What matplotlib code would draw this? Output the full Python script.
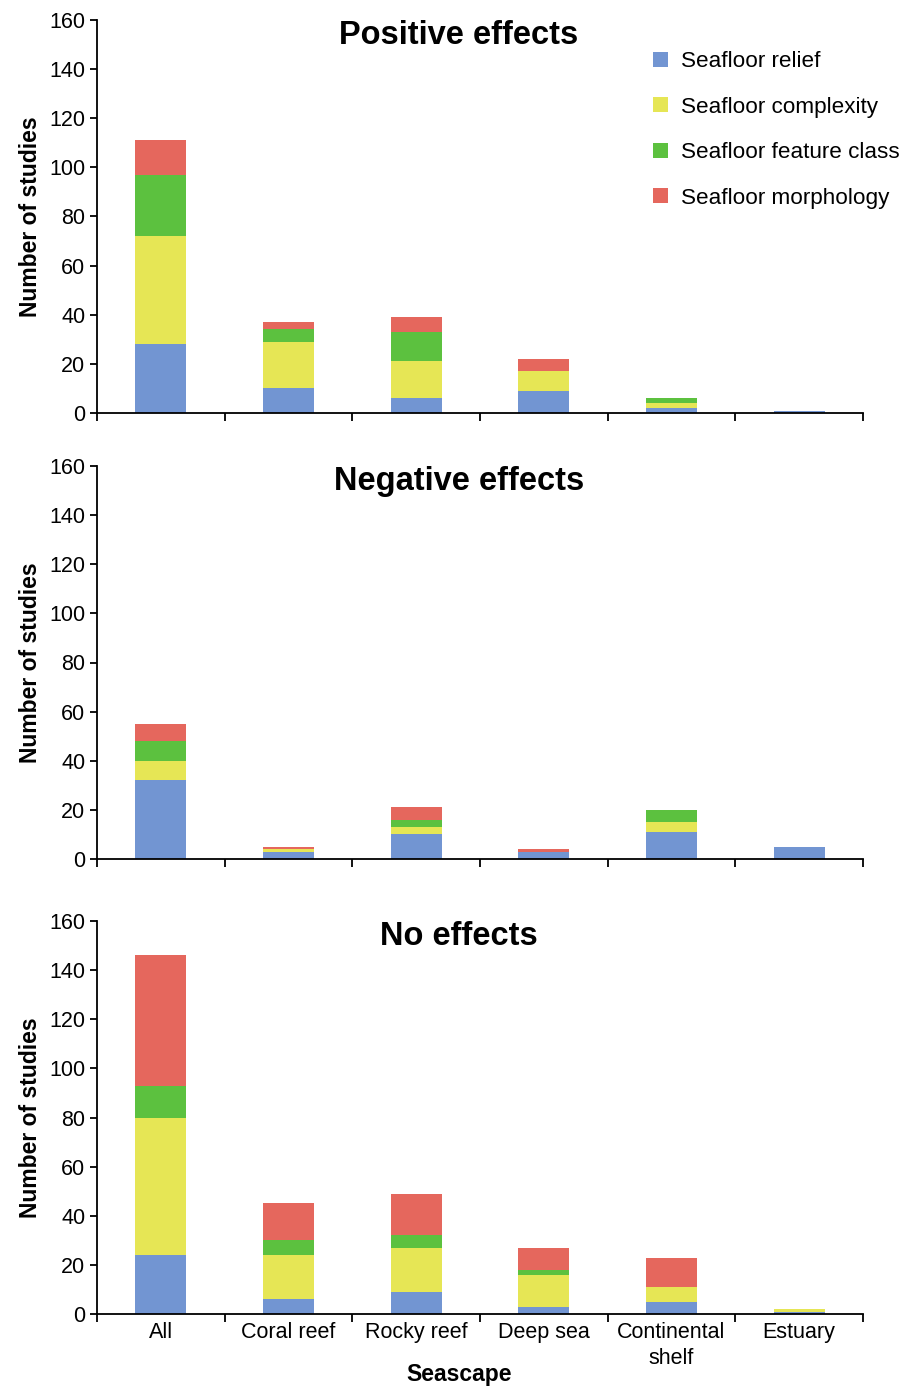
import numpy as np
import matplotlib
matplotlib.use("Agg")
import matplotlib.pyplot as plt

plt.rcParams['font.family'] = ['Liberation Sans', 'DejaVu Sans']

# seascape categories
seascapes = ['All', 'Coral reef', 'Rocky reef', 'Deep sea', 'Continental\nshelf', 'Estuary']
series = ['Seafloor relief', 'Seafloor complexity', 'Seafloor feature class', 'Seafloor morphology']
colors = ['#7295D2', '#E6E655', '#5CC13F', '#E5675D']

# number of studies per series, one list per panel
pos_relief = [28, 10, 6, 9, 2, 1]
pos_complexity = [44, 19, 15, 8, 2, 0]
pos_feature = [25, 5, 12, 0, 2, 0]
pos_morphology = [14, 3, 6, 5, 0, 0]

neg_relief = [32, 3, 10, 3, 11, 5]
neg_complexity = [8, 1, 3, 0, 4, 0]
neg_feature = [8, 0, 3, 0, 5, 0]
neg_morphology = [7, 1, 5, 1, 0, 0]

no_relief = [24, 6, 9, 3, 5, 1]
no_complexity = [56, 18, 18, 13, 6, 1]
no_feature = [13, 6, 5, 2, 0, 0]
no_morphology = [53, 15, 17, 9, 12, 0]

panels = [
    ('Positive effects', [pos_relief, pos_complexity, pos_feature, pos_morphology]),
    ('Negative effects', [neg_relief, neg_complexity, neg_feature, neg_morphology]),
    ('No effects', [no_relief, no_complexity, no_feature, no_morphology]),
]

W, H = 911, 1387
fig = plt.figure(figsize=(W / 100, H / 100), dpi=100)

left, right = 97, 863
tops = [20, 466, 921]
ax_h = 393

x = np.arange(len(seascapes))
axes = []
for i, (title, data) in enumerate(panels):
    ax = fig.add_axes([left / W, 1 - (tops[i] + ax_h) / H, (right - left) / W, ax_h / H])
    axes.append(ax)
    bottom = np.zeros(len(seascapes))
    for vals, col, name in zip(data, colors, series):
        ax.bar(x, vals, width=0.4, bottom=bottom, color=col, label=name, linewidth=0)
        bottom += np.array(vals)
    ax.set_xlim(-0.5, 5.5)
    ax.set_ylim(0, 160)
    ax.set_yticks(range(0, 161, 20))
    ax.tick_params(axis='y', labelsize=15.5, direction='out', length=5, width=1.3)
    ax.set_xticks(x)
    ax.set_xticks(np.arange(-0.5, 6, 1), minor=True)
    ax.tick_params(axis='x', which='major', length=0, labelsize=15.5, pad=6)
    ax.tick_params(axis='x', which='minor', length=6, width=1.3, direction='out')
    if i == 2:
        ax.set_xticklabels(seascapes, linespacing=1.3)
    else:
        ax.set_xticklabels([])
    for s in ['top', 'right']:
        ax.spines[s].set_visible(False)
    for s in ['left', 'bottom']:
        ax.spines[s].set_linewidth(1.3)
    ax.set_ylabel('Number of studies', fontsize=16.5, fontweight='bold', labelpad=5)
    ax.text((459 - left) / (right - left), 1 - 15.5 / ax_h, title, transform=ax.transAxes,
            ha='center', va='center', fontsize=23.5, fontweight='bold')

fig.text(459 / W, 1 - 1375 / H, 'Seascape', ha='center', va='center',
         fontsize=16.5, fontweight='bold')

handles, labels = axes[0].get_legend_handles_labels()
fig.legend(handles, labels, loc='upper left', bbox_to_anchor=(653 / W, 1 - 51 / H),
           frameon=False, fontsize=16.2, borderpad=0, borderaxespad=0,
           handlelength=0.65, handleheight=0.65, handletextpad=0.6, labelspacing=1.09)

fig.savefig('out.png', dpi=100)
